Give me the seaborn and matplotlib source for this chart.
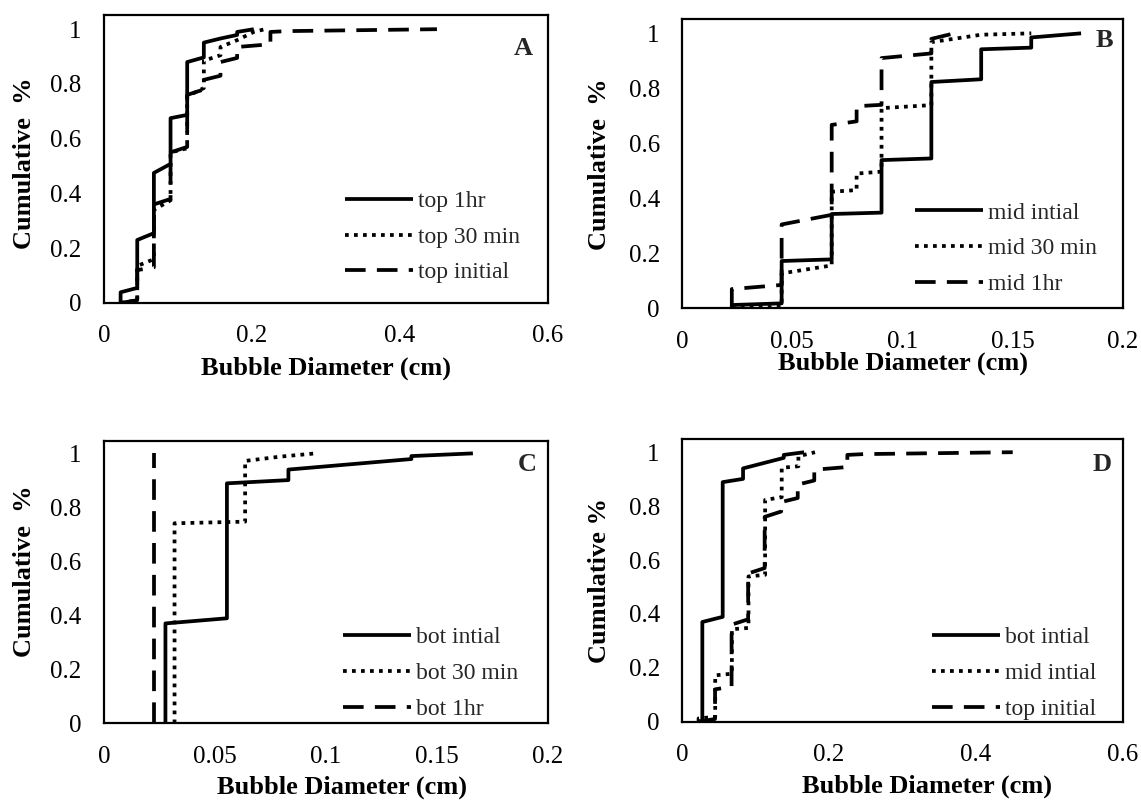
import matplotlib
matplotlib.use("Agg")
import matplotlib.pyplot as plt
import seaborn as sns
import pandas as pd

# ---------------- data ----------------
# Panel A
top_1hr_x = [0.0225, 0.0225, 0.045, 0.045, 0.0675, 0.0675, 0.09, 0.09, 0.1125, 0.1125,
             0.135, 0.135, 0.1575, 0.18, 0.18, 0.2025]
top_1hr_y = [0.0, 0.039, 0.055, 0.23, 0.255, 0.475, 0.508, 0.675, 0.687, 0.88,
             0.897, 0.951, 0.966, 0.979, 0.99, 1.0]
top_30_x = [0.0225, 0.045, 0.045, 0.0675, 0.0675, 0.09, 0.09, 0.1125, 0.1125, 0.135,
            0.135, 0.1575, 0.1575, 0.18, 0.2025, 0.2175]
top_30_y = [0.0, 0.01, 0.135, 0.16, 0.34, 0.375, 0.55, 0.565, 0.755, 0.785,
            0.885, 0.905, 0.935, 0.96, 0.99, 1.0]
top_init_x = [0.0225, 0.045, 0.045, 0.0675, 0.0675, 0.09, 0.09, 0.1125, 0.1125, 0.135,
              0.135, 0.1575, 0.1575, 0.18, 0.18, 0.2025, 0.225, 0.225, 0.2475, 0.45]
top_init_y = [0.0, 0.01, 0.12, 0.13, 0.36, 0.38, 0.55, 0.57, 0.76, 0.78,
              0.815, 0.83, 0.88, 0.895, 0.935, 0.94, 0.945, 0.99, 0.993, 1.0]

# Panel B
mid_init_x = [0.0226, 0.0226, 0.0452, 0.0452, 0.0679, 0.0679, 0.0905, 0.0905, 0.1131,
              0.1131, 0.1357, 0.1357, 0.1584, 0.1584, 0.181]
mid_init_y = [0.0, 0.012, 0.018, 0.172, 0.178, 0.343, 0.348, 0.539, 0.545,
              0.823, 0.833, 0.942, 0.948, 0.985, 1.0]
mid_30_x = [0.0226, 0.0452, 0.0452, 0.0679, 0.0679, 0.0792, 0.0792, 0.0905, 0.0905,
            0.1131, 0.1131, 0.1357, 0.1584]
mid_30_y = [0.0, 0.006, 0.127, 0.156, 0.424, 0.43, 0.49, 0.497, 0.728,
            0.739, 0.968, 0.995, 1.0]
mid_1hr_x = [0.0226, 0.0226, 0.0452, 0.0452, 0.0679, 0.0679, 0.0792, 0.0792, 0.0905,
             0.0905, 0.1131, 0.1131, 0.1235]
mid_1hr_y = [0.0, 0.07, 0.085, 0.305, 0.34, 0.667, 0.68, 0.735, 0.74,
             0.91, 0.927, 0.98, 1.0]

# Panel C
bot_init_x = [0.0277, 0.0277, 0.0554, 0.0554, 0.0831, 0.0831, 0.1385, 0.1385, 0.1662]
bot_init_y = [0.0, 0.37, 0.389, 0.889, 0.901, 0.94, 0.979, 0.99, 1.0]
bot_30_x = [0.0318, 0.0318, 0.0636, 0.0636, 0.0795, 0.0954]
bot_30_y = [0.0, 0.741, 0.747, 0.972, 0.988, 1.0]
bot_1hr_x = [0.0226, 0.0226]
bot_1hr_y = [0.0, 1.0]

# axis ticks / labels
ticks_06 = [0, 0.2, 0.4, 0.6]
ticklabels_06 = ["0", "0.2", "0.4", "0.6"]
ticks_02 = [0, 0.05, 0.1, 0.15, 0.2]
ticklabels_02 = ["0", "0.05", "0.1", "0.15", "0.2"]
yticks = [0, 0.2, 0.4, 0.6, 0.8, 1.0]
yticklabels = ["0", "0.2", "0.4", "0.6", "0.8", "1"]

# ---------------- style ----------------
sns.set_style("white")
plt.rcParams["font.family"] = ["Liberation Serif", "DejaVu Serif"]

SOLID = None
DOT = (1.0, 1.4)
DASH = (5.5, 3.0)
LW = 2.7

fig = plt.figure(figsize=(11.41, 8), dpi=100)

panels = [
    dict(rect=[0.0911, 0.6213, 0.3891, 0.3600], ytop=1.052, xlim=0.6, xt=ticks_06, xtl=ticklabels_06,
         series=[(top_1hr_x, top_1hr_y, "top 1hr", SOLID),
                 (top_30_x, top_30_y, "top 30 min", DOT),
                 (top_init_x, top_init_y, "top initial", DASH)],
         letter="A", letter_pos=(0.944, 0.885), ylabel="Cumulative  %",
         ylab_pos=(-0.178, 0.486), xlab_pos=(0.5, -0.226), leg=(0.543, 0.229)),
    dict(rect=[0.5977, 0.6146, 0.3865, 0.3616], ytop=1.052, xlim=0.2, xt=ticks_02, xtl=ticklabels_02,
         series=[(mid_init_x, mid_init_y, "mid intial", SOLID),
                 (mid_30_x, mid_30_y, "mid 30 min", DOT),
                 (mid_1hr_x, mid_1hr_y, "mid 1hr", DASH)],
         letter="B", letter_pos=(0.959, 0.927), ylabel="Cumulative  %",
         ylab_pos=(-0.188, 0.499), xlab_pos=(0.501, -0.189), leg=(0.528, 0.207)),
    dict(rect=[0.0911, 0.0959, 0.3891, 0.3529], ytop=1.046, xlim=0.2, xt=ticks_02, xtl=ticklabels_02,
         series=[(bot_init_x, bot_init_y, "bot intial", SOLID),
                 (bot_30_x, bot_30_y, "bot 30 min", DOT),
                 (bot_1hr_x, bot_1hr_y, "bot 1hr", DASH)],
         letter="C", letter_pos=(0.953, 0.915), ylabel="Cumulative  %",
         ylab_pos=(-0.178, 0.537), xlab_pos=(0.536, -0.225), leg=(0.538, 0.177)),
    dict(rect=[0.5977, 0.0979, 0.3865, 0.3530], ytop=1.048, xlim=0.6, xt=ticks_06, xtl=ticklabels_06,
         series=[(bot_init_x, bot_init_y, "bot intial", SOLID),
                 (mid_init_x, mid_init_y, "mid intial", DOT),
                 (top_init_x, top_init_y, "top initial", DASH)],
         letter="D", letter_pos=(0.952, 0.909), ylabel="Cumulative %",
         ylab_pos=(-0.188, 0.499), xlab_pos=(0.556, -0.23), leg=(0.567, 0.171)),
]

for p in panels:
    ax = fig.add_axes(p["rect"])
    handles = []
    for xs, ys, lab, dash in p["series"]:
        df = pd.DataFrame({"x": xs, "y": ys})
        sns.lineplot(data=df, x="x", y="y", sort=False, estimator=None, ax=ax,
                     color="black", linewidth=LW, legend=False)
        ln = ax.lines[-1]
        if dash is not None:
            ln.set_dashes(dash)
        ln.set_solid_capstyle("butt")
        ln.set_dash_capstyle("butt")
        ln.set_label(lab)
        handles.append(ln)
    ax.set_xlim(0, p["xlim"])
    ax.set_ylim(0, p["ytop"])
    ax.set_xticks(p["xt"])
    ax.set_xticklabels(p["xtl"])
    ax.set_yticks(yticks)
    ax.set_yticklabels(yticklabels)
    ax.tick_params(axis="both", length=0, labelsize=18, colors="black")
    ax.tick_params(axis="y", pad=16)
    ax.tick_params(axis="x", pad=16)
    for s in ax.spines.values():
        s.set_visible(True)
        s.set_color("black")
        s.set_linewidth(1.6)
    ax.grid(False)
    ax.set_xlabel("Bubble Diameter (cm)", fontsize=19, fontweight="bold", color="black")
    ax.set_ylabel(p["ylabel"], fontsize=19, fontweight="bold", color="black")
    ax.xaxis.set_label_coords(*p["xlab_pos"])
    ax.xaxis.label.set_va("center")
    ax.yaxis.set_label_coords(*p["ylab_pos"])
    ax.yaxis.label.set_va("center")
    ax.text(p["letter_pos"][0], p["letter_pos"][1], p["letter"], transform=ax.transAxes,
            ha="center", va="center", fontsize=19, fontweight="bold")
    ax.legend(handles=handles, loc="center left", bbox_to_anchor=p["leg"], frameon=False,
              fontsize=17, handlelength=2.9, handletextpad=0.2, labelspacing=0.6,
              borderpad=0, borderaxespad=0)

fig.savefig("out.png", dpi=100)
